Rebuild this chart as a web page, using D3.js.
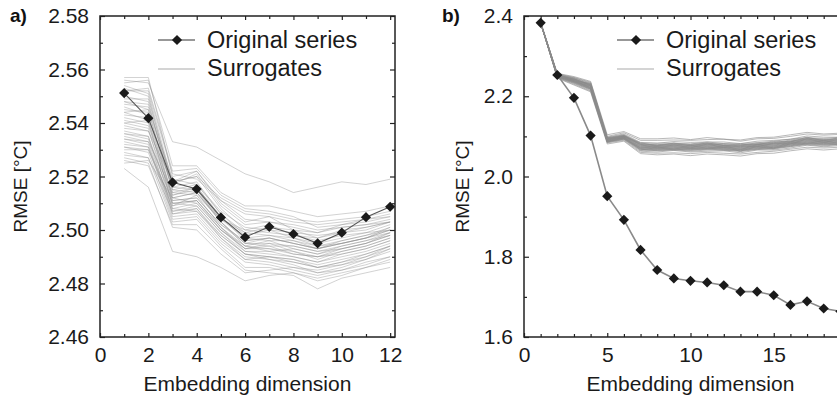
<!DOCTYPE html>
<html><head><meta charset="utf-8">
<script src="https://cdn.jsdelivr.net/npm/d3@7"></script>
<style>
body{margin:0;background:#fff;}
svg{display:block;font-family:"Liberation Sans",Arial,Helvetica,sans-serif;}
</style></head><body>
<svg id="chart" width="837" height="401"></svg>
<script>
// ---------- data ----------
const leftX = [1,2,3,4,5,6,7,8,9,10,11,12];
const leftOriginal = [2.5512,2.5418,2.5178,2.5153,2.5047,2.4973,2.5012,2.4985,2.4950,2.4990,2.5048,2.5087];
const leftSurrogates = [
 [2.557,2.557,2.520,2.522,2.510,2.503,2.505,2.500,2.499,2.502,2.504,2.506],
 [2.556,2.555,2.533,2.531,2.526,2.521,2.518,2.514,2.516,2.518,2.517,2.519],
 [2.555,2.556,2.524,2.524,2.514,2.509,2.509,2.507,2.505,2.506,2.507,2.509],
 [2.554,2.551,2.518,2.520,2.508,2.500,2.502,2.498,2.497,2.500,2.501,2.503],
 [2.553,2.550,2.516,2.518,2.506,2.499,2.498,2.497,2.495,2.497,2.499,2.502],
 [2.552,2.552,2.521,2.519,2.511,2.506,2.505,2.503,2.502,2.503,2.504,2.505],
 [2.550,2.548,2.514,2.516,2.505,2.496,2.497,2.495,2.493,2.495,2.497,2.500],
 [2.549,2.549,2.517,2.521,2.509,2.502,2.503,2.501,2.499,2.501,2.502,2.504],
 [2.548,2.545,2.512,2.514,2.503,2.494,2.496,2.493,2.491,2.494,2.496,2.498],
 [2.547,2.546,2.519,2.517,2.507,2.501,2.500,2.499,2.498,2.499,2.500,2.503],
 [2.546,2.543,2.511,2.512,2.502,2.495,2.494,2.494,2.492,2.493,2.495,2.499],
 [2.545,2.544,2.515,2.517,2.506,2.498,2.500,2.497,2.494,2.496,2.498,2.501],
 [2.544,2.541,2.509,2.513,2.501,2.492,2.491,2.490,2.488,2.491,2.493,2.496],
 [2.543,2.542,2.516,2.515,2.504,2.500,2.499,2.498,2.496,2.498,2.499,2.500],
 [2.542,2.540,2.510,2.511,2.500,2.493,2.494,2.491,2.490,2.492,2.494,2.497],
 [2.541,2.539,2.513,2.516,2.505,2.497,2.498,2.496,2.493,2.495,2.497,2.501],
 [2.540,2.538,2.507,2.509,2.499,2.491,2.490,2.488,2.486,2.488,2.491,2.494],
 [2.539,2.537,2.512,2.514,2.503,2.495,2.495,2.494,2.492,2.494,2.496,2.499],
 [2.538,2.537,2.518,2.520,2.512,2.507,2.506,2.504,2.503,2.504,2.505,2.507],
 [2.537,2.535,2.506,2.507,2.497,2.490,2.489,2.487,2.484,2.486,2.489,2.492],
 [2.536,2.534,2.511,2.512,2.502,2.496,2.497,2.495,2.493,2.496,2.498,2.500],
 [2.535,2.533,2.508,2.510,2.500,2.494,2.493,2.492,2.490,2.493,2.495,2.498],
 [2.534,2.533,2.514,2.513,2.504,2.499,2.501,2.500,2.497,2.499,2.501,2.503],
 [2.533,2.531,2.505,2.506,2.496,2.489,2.488,2.486,2.485,2.487,2.490,2.493],
 [2.532,2.531,2.509,2.511,2.501,2.493,2.495,2.492,2.489,2.492,2.494,2.497],
 [2.531,2.529,2.504,2.505,2.495,2.488,2.487,2.485,2.483,2.485,2.488,2.490],
 [2.530,2.530,2.510,2.509,2.499,2.492,2.492,2.490,2.488,2.490,2.492,2.495],
 [2.529,2.527,2.503,2.504,2.494,2.486,2.486,2.484,2.481,2.483,2.486,2.488],
 [2.528,2.527,2.507,2.508,2.498,2.491,2.490,2.489,2.487,2.489,2.491,2.494],
 [2.526,2.524,2.502,2.502,2.493,2.485,2.484,2.483,2.478,2.482,2.484,2.486],
 [2.525,2.526,2.512,2.510,2.500,2.493,2.493,2.491,2.490,2.491,2.493,2.496],
 [2.523,2.516,2.492,2.490,2.486,2.481,2.483,2.484,2.482,2.484,2.486,2.489],
 [2.552,2.553,2.522,2.523,2.513,2.508,2.507,2.505,2.501,2.502,2.503,2.505],
 [2.548,2.547,2.515,2.514,2.504,2.497,2.496,2.496,2.494,2.495,2.497,2.499],
 [2.544,2.545,2.518,2.522,2.511,2.504,2.503,2.502,2.500,2.501,2.502,2.503],
 [2.540,2.541,2.513,2.515,2.503,2.495,2.497,2.495,2.493,2.495,2.497,2.500],
 [2.536,2.535,2.510,2.511,2.501,2.494,2.492,2.493,2.491,2.493,2.495,2.498],
 [2.534,2.532,2.506,2.508,2.497,2.489,2.490,2.489,2.486,2.488,2.490,2.494],
 [2.531,2.530,2.508,2.507,2.498,2.491,2.489,2.488,2.486,2.487,2.489,2.493],
 [2.527,2.525,2.501,2.500,2.491,2.484,2.485,2.486,2.484,2.485,2.487,2.490]
];
const rightX = [1,2,3,4,5,6,7,8,9,10,11,12,13,14,15,16,17,18,19,20];
const rightOriginal = [2.383,2.253,2.196,2.102,1.951,1.892,1.817,1.767,1.746,1.740,1.736,1.729,1.713,1.713,1.704,1.680,1.689,1.671,1.664,1.658];
const rightSurrogates = [
 [2.383,2.257,2.249,2.237,2.104,2.112,2.094,2.094,2.096,2.092,2.097,2.093,2.091,2.097,2.098,2.104,2.110,2.106,2.108,2.109],
 [2.383,2.255,2.246,2.233,2.098,2.106,2.085,2.083,2.087,2.085,2.086,2.086,2.082,2.088,2.090,2.093,2.101,2.098,2.098,2.101],
 [2.384,2.254,2.245,2.231,2.097,2.104,2.083,2.083,2.083,2.081,2.086,2.082,2.082,2.084,2.088,2.093,2.097,2.095,2.098,2.097],
 [2.383,2.254,2.243,2.230,2.096,2.103,2.081,2.079,2.083,2.080,2.082,2.082,2.078,2.084,2.084,2.091,2.096,2.092,2.096,2.095],
 [2.382,2.253,2.244,2.228,2.095,2.102,2.082,2.078,2.080,2.080,2.083,2.078,2.079,2.081,2.085,2.088,2.095,2.093,2.093,2.096],
 [2.383,2.253,2.242,2.229,2.094,2.102,2.079,2.079,2.081,2.077,2.080,2.080,2.076,2.082,2.082,2.089,2.093,2.090,2.094,2.093],
 [2.383,2.252,2.242,2.227,2.094,2.101,2.080,2.076,2.078,2.078,2.081,2.077,2.077,2.079,2.083,2.086,2.094,2.091,2.091,2.094],
 [2.384,2.252,2.241,2.227,2.093,2.100,2.077,2.077,2.079,2.075,2.078,2.078,2.074,2.080,2.080,2.087,2.091,2.088,2.092,2.091],
 [2.383,2.252,2.241,2.226,2.093,2.100,2.078,2.074,2.076,2.076,2.079,2.075,2.075,2.077,2.081,2.084,2.092,2.089,2.089,2.092],
 [2.383,2.251,2.240,2.225,2.092,2.099,2.075,2.075,2.077,2.073,2.076,2.076,2.072,2.078,2.078,2.085,2.089,2.086,2.090,2.089],
 [2.382,2.251,2.239,2.224,2.091,2.098,2.076,2.072,2.074,2.074,2.077,2.073,2.073,2.075,2.079,2.082,2.090,2.087,2.087,2.090],
 [2.383,2.251,2.239,2.223,2.091,2.098,2.073,2.073,2.075,2.071,2.074,2.074,2.070,2.076,2.076,2.083,2.087,2.084,2.088,2.087],
 [2.383,2.250,2.238,2.222,2.090,2.097,2.074,2.070,2.072,2.072,2.075,2.071,2.071,2.073,2.077,2.080,2.088,2.085,2.085,2.088],
 [2.384,2.250,2.237,2.222,2.090,2.096,2.071,2.071,2.073,2.069,2.072,2.072,2.068,2.074,2.074,2.081,2.085,2.082,2.086,2.085],
 [2.383,2.249,2.237,2.221,2.089,2.096,2.072,2.068,2.070,2.070,2.073,2.069,2.069,2.071,2.075,2.078,2.086,2.083,2.083,2.086],
 [2.383,2.249,2.236,2.220,2.088,2.095,2.069,2.069,2.071,2.067,2.070,2.070,2.066,2.072,2.072,2.079,2.083,2.080,2.084,2.083],
 [2.382,2.249,2.236,2.219,2.088,2.095,2.070,2.066,2.068,2.068,2.071,2.067,2.067,2.069,2.073,2.076,2.084,2.081,2.081,2.084],
 [2.383,2.248,2.235,2.218,2.087,2.094,2.067,2.067,2.069,2.065,2.068,2.068,2.064,2.070,2.070,2.077,2.081,2.078,2.082,2.081],
 [2.383,2.248,2.234,2.218,2.087,2.093,2.068,2.064,2.066,2.066,2.069,2.065,2.065,2.067,2.071,2.074,2.082,2.079,2.079,2.082],
 [2.384,2.247,2.233,2.217,2.086,2.093,2.065,2.065,2.067,2.063,2.066,2.066,2.062,2.068,2.068,2.075,2.079,2.076,2.080,2.079],
 [2.383,2.247,2.232,2.215,2.085,2.092,2.063,2.061,2.065,2.061,2.063,2.064,2.059,2.066,2.066,2.071,2.078,2.074,2.077,2.078],
 [2.383,2.246,2.230,2.213,2.084,2.090,2.060,2.058,2.059,2.057,2.060,2.058,2.056,2.060,2.063,2.068,2.073,2.071,2.073,2.074],
 [2.383,2.245,2.228,2.211,2.081,2.088,2.057,2.054,2.056,2.052,2.056,2.054,2.051,2.057,2.058,2.064,2.069,2.066,2.069,2.070],
 [2.383,2.256,2.247,2.235,2.100,2.109,2.090,2.090,2.091,2.090,2.092,2.093,2.088,2.094,2.095,2.100,2.106,2.103,2.105,2.106],
 [2.383,2.250,2.243,2.228,2.090,2.101,2.080,2.070,2.079,2.071,2.081,2.072,2.076,2.074,2.083,2.081,2.094,2.085,2.093,2.088],
 [2.383,2.253,2.236,2.226,2.094,2.095,2.071,2.075,2.068,2.077,2.070,2.076,2.067,2.080,2.071,2.086,2.082,2.090,2.081,2.091],
 [2.383,2.248,2.240,2.220,2.086,2.098,2.066,2.072,2.066,2.070,2.068,2.073,2.063,2.075,2.069,2.082,2.080,2.084,2.078,2.086],
 [2.383,2.255,2.238,2.232,2.097,2.099,2.084,2.076,2.083,2.076,2.084,2.077,2.080,2.079,2.087,2.086,2.098,2.089,2.097,2.092]
];
const leftYTicks = [2.46,2.48,2.50,2.52,2.54,2.56,2.58];
const leftXTicks = [0,2,4,6,8,10,12];
const rightYTicks = [1.6,1.8,2.0,2.2,2.4];
const rightXTicks = [0,5,10,15,20];
const rightXTickLabels = ["0","5","10","15",""];
const legendLabels = ["Original series","Surrogates"];
const panelLabels = ["a)","b)"];
const yTitle = "RMSE [\u00B0C]";
const xTitle = "Embedding dimension";

// ---------- drawing ----------
const svg = d3.select("#chart");
const FS = 21;

function panel(cfg){
  const g = svg.append("g").attr("transform",`translate(${cfg.left},${cfg.top})`);
  const W = cfg.width, H = cfg.height;
  const x = d3.scaleLinear().domain(cfg.xDomain).range([0,W]);
  const y = d3.scaleLinear().domain(cfg.yDomain).range([H,0]);

  const clipId = "clip"+cfg.id;
  g.append("clipPath").attr("id",clipId).append("rect").attr("width",W).attr("height",H);
  const plot = g.append("g").attr("clip-path",`url(#${clipId})`);

  const line = d3.line().x((d,i)=>x(cfg.xs[i])).y(d=>y(d));
  plot.selectAll("path.sur").data(cfg.surrogates).join("path")
    .attr("class","sur").attr("d",line)
    .attr("fill","none").attr("stroke","#8a8a8a").attr("stroke-opacity",cfg.surOpacity)
    .attr("stroke-width",1);

  plot.append("path").datum(cfg.original).attr("d",line)
    .attr("fill","none").attr("stroke",cfg.origLine).attr("stroke-width",cfg.origWidth);

  const diamond = d3.symbol().type(d3.symbolSquare).size(52);
  plot.selectAll("path.dia").data(cfg.original).join("path")
    .attr("class","dia").attr("d",diamond)
    .attr("transform",(d,i)=>`translate(${x(cfg.xs[i])},${y(d)}) rotate(45)`)
    .attr("fill","#1a1a1a");

  // axes: inward ticks
  const tickCol = "#222";
  const style = sel => { sel.select(".domain").remove(); sel.selectAll(".tick line").attr("stroke",tickCol).attr("stroke-width",1.2); };
  g.append("g").call(d3.axisLeft(y).tickValues(cfg.yTicks).tickSize(-5).tickPadding(11).tickFormat(d3.format(cfg.yFmt)))
    .call(style).call(s=>s.selectAll("text").attr("font-size",FS).attr("fill","#1a1a1a").attr("font-family","Liberation Sans, Arial, sans-serif"));
  g.append("g").call(d3.axisLeft(y).tickValues(cfg.yMinor).tickSize(-3).tickFormat("")).call(style);
  g.append("g").attr("transform",`translate(${W},0)`).call(d3.axisRight(y).tickValues(cfg.yTicks).tickSize(-5).tickFormat("")).call(style);
  g.append("g").attr("transform",`translate(${W},0)`).call(d3.axisRight(y).tickValues(cfg.yMinor).tickSize(-3).tickFormat("")).call(style);
  g.append("g").attr("transform",`translate(0,${H})`).call(d3.axisBottom(x).tickValues(cfg.xTicks).tickSize(-4).tickPadding(10).tickFormat(cfg.xFmt))
    .call(style).call(s=>s.selectAll("text").attr("font-size",FS).attr("fill","#1a1a1a").attr("font-family","Liberation Sans, Arial, sans-serif").attr("dy","0.71em"));
  g.append("g").attr("transform",`translate(0,${H})`).call(d3.axisBottom(x).tickValues(cfg.xMinor).tickSize(-3).tickFormat("")).call(style);
  g.append("g").call(d3.axisTop(x).tickValues(cfg.xTicks).tickSize(-4).tickFormat("")).call(style);
  g.append("g").call(d3.axisTop(x).tickValues(cfg.xMinor).tickSize(-3).tickFormat("")).call(style);

  g.append("rect").attr("width",W).attr("height",H).attr("fill","none").attr("stroke","#222").attr("stroke-width",1.5);

  // titles
  g.append("text").attr("x",W/2).attr("y",H+54).attr("text-anchor","middle")
    .attr("font-size",FS).attr("fill","#1a1a1a").text(xTitle);
  g.append("text").attr("transform",`translate(${cfg.yTitleX},${H/2+10}) rotate(-90)`).attr("text-anchor","middle")
    .attr("font-size",19).attr("fill","#1a1a1a").text(yTitle);
  svg.append("text").attr("x",cfg.left+cfg.labelDx).attr("y",22).attr("font-size",19).attr("font-weight","bold")
    .attr("fill","#111").text(cfg.label);

  // legend
  const lg = g.append("g").attr("transform",`translate(${cfg.legX},0)`);
  lg.append("line").attr("x1",0).attr("x2",37).attr("y1",24).attr("y2",24).attr("stroke","#333").attr("stroke-width",1.2);
  lg.append("path").attr("d",diamond).attr("transform","translate(19,24) rotate(45)").attr("fill","#1a1a1a");
  lg.append("text").attr("x",49).attr("y",32).attr("font-size",23.5).attr("fill","#1a1a1a").text(legendLabels[0]);
  lg.append("line").attr("x1",0).attr("x2",37).attr("y1",53).attr("y2",53).attr("stroke","#aaa").attr("stroke-width",1.2);
  lg.append("text").attr("x",49).attr("y",60).attr("font-size",23.5).attr("fill","#1a1a1a").text(legendLabels[1]);
}

panel({id:"a",left:100,top:16,width:295,height:321,
  xDomain:[0,12.2],yDomain:[2.46,2.58],xs:leftX,original:leftOriginal,surrogates:leftSurrogates,
  yTicks:leftYTicks,yMinor:d3.range(2.47,2.58,0.02),xTicks:leftXTicks,xMinor:d3.range(1,13,2),
  yFmt:".2f",xFmt:d3.format("d"),origLine:"#555",origWidth:1.1,surOpacity:0.38,
  yTitleX:-73,label:panelLabels[0],labelDx:-90,legX:58});

panel({id:"b",left:524,top:16,width:333,height:321,
  xDomain:[0,20],yDomain:[1.6,2.4],xs:rightX,original:rightOriginal,surrogates:rightSurrogates,
  yTicks:rightYTicks,yMinor:[1.7,1.9,2.1,2.3],xTicks:rightXTicks,xMinor:d3.range(1,20).filter(v=>v%5!==0),
  yFmt:".1f",xFmt:(d,i)=>rightXTickLabels[i],origLine:"#8a8a8a",origWidth:1.6,surOpacity:0.6,
  yTitleX:-55,label:panelLabels[1],labelDx:-82,legX:93});
</script>
</body></html>
